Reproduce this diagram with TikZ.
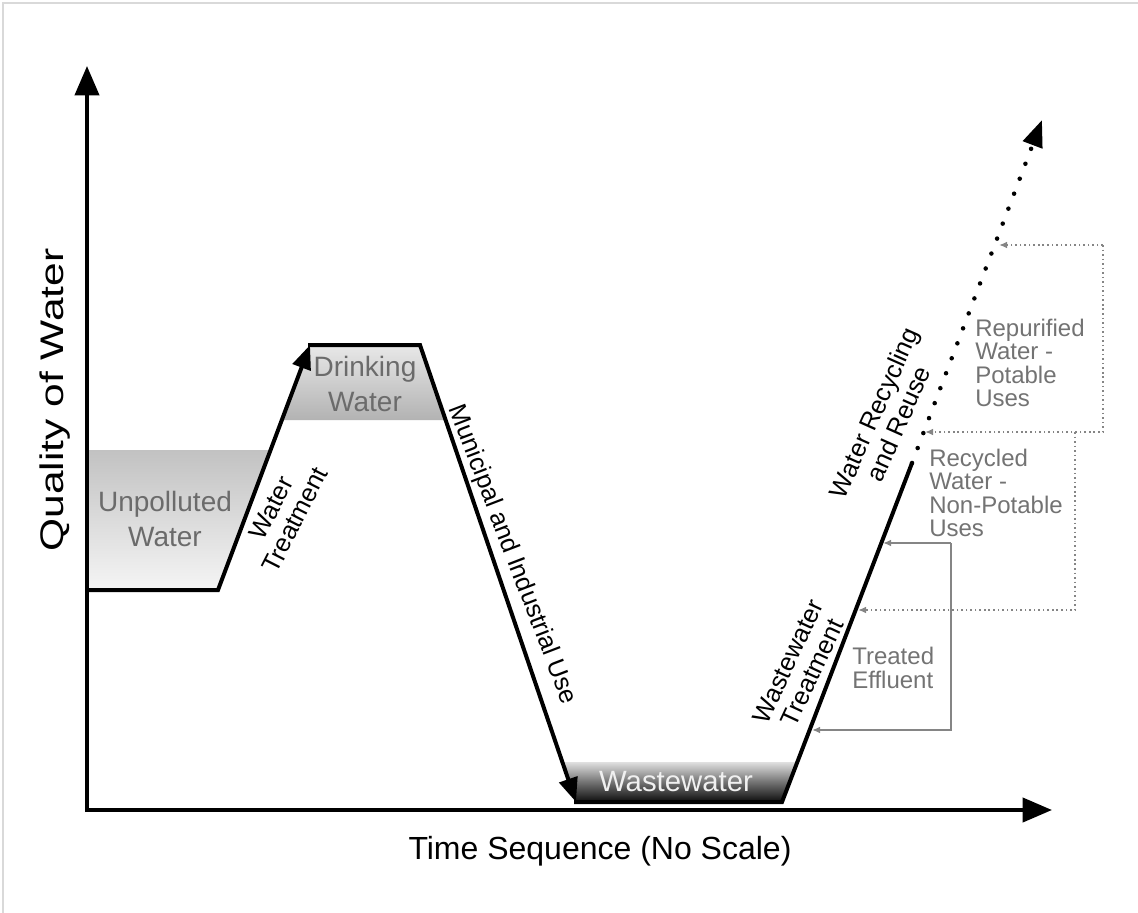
\documentclass[tikz,border=0pt]{standalone}
\usepackage{fontspec}
\setmainfont{Liberation Sans}
\usetikzlibrary{arrows.meta}
\begin{document}
\begin{tikzpicture}[x=0.75pt,y=-0.75pt,
  axis/.style={line width=3pt, -{Triangle[length=22pt,width=18pt]}},
  mainline/.style={line width=3pt, line join=miter},
  mainarrow/.style={line width=3pt, -{Triangle[length=18pt,width=14pt]}},
  dotline/.style={line width=3.4pt, line cap=round, dash pattern=on 0pt off 12pt, -{Triangle[length=20pt,width=15pt]}},
  grayline/.style={draw=black!48, line width=1.5pt},
  graydot/.style={draw=black!48, line width=1.6pt, dash pattern=on 1.2pt off 2.2pt},
  gtip/.style={-{Latex[length=6pt,width=5pt]}},
  fillabel/.style={text=black!58, font=\fontsize{21}{26}\selectfont, align=center, inner sep=0pt},
  graylabel/.style={text=black!55, font=\fontsize{18}{17.5}\selectfont, align=left, anchor=west, inner sep=0pt},
  linelabel/.style={font=\fontsize{19}{20}\selectfont, align=center, inner sep=0pt},
]
\useasboundingbox (0,0) rectangle (1138,913);
% border
\draw[black!15, line width=1.5pt] (3,913) -- (3,3) -- (1138,3);

% key points of the quality path
\coordinate (a0) at (87,590);
\coordinate (a1) at (218,590);
\coordinate (a2) at (310,345);
\coordinate (a3) at (420,345);
\coordinate (a4) at (576,802);
\coordinate (a5) at (782,802);
\coordinate (a6) at (912,463);
\coordinate (a7) at (1042,120);

% shaded bands
\shade[top color=black!24, bottom color=black!4] (87,450) -- (270.6,450) -- (a1) -- (a0) -- cycle;
\shade[top color=black!9, bottom color=black!30] (310,345) -- (420,345) -- (445.5,420) -- (281.8,420) -- cycle;
\shade[top color=black!12, bottom color=black!95, middle color=black!55] (562,762) -- (797,762) -- (a5) -- (a4) -- cycle;

% axes
\coordinate (O) at (87,810);
\coordinate (ytip) at (87,66);
\coordinate (xtip) at (1052,810);
\draw[axis] (87,812) -- (ytip);
\draw[axis] (85,810) -- (xtip);

% main path
\draw[mainarrow] (a0) -- (a1) -- (a2);
\draw[mainarrow] (308,345) -- (a3) -- (a4);
\draw[mainline] (574,802) -- (a5) -- (a6);
\draw[dotline] (a6) -- (a7);

% gray brackets
\coordinate (t1) at (951,543);
\coordinate (t2) at (951,730);
\coordinate (e1) at (883,543);
\coordinate (e2) at (812,730);
\draw[grayline, gtip] (t1) -- (e1);
\draw[grayline, gtip] (t1) -- (t2) -- (e2);

\coordinate (p1) at (1103,245);
\coordinate (p2) at (1103,432);
\coordinate (q1) at (999,245);
\coordinate (q2) at (925,432);
\draw[graydot, gtip] (p1) -- (q1);
\draw[graydot, gtip] (p1) -- (p2) -- (q2);

\coordinate (r1) at (1075,432);
\coordinate (r2) at (1075,610);
\coordinate (s2) at (858,610);
\draw[graydot, gtip] (r1) -- (r2) -- (s2);

% labels
\node[fillabel] (unpol) at (165,519) {Unpolluted\\Water};
\node[fillabel] (drink) at (365,384) {Drinking\\Water};
\node[fillabel, text=black!6, font=\fontsize{22}{26}\selectfont] (waste) at (676,782) {Wastewater};

\node[font=\fontsize{24}{28}\selectfont] (xlab) at (600,851) {Time Sequence (No Scale)};
\node[font=\fontsize{24.5}{28}\selectfont, rotate=90] (ylab) at (55,400) {\scalebox{1.3}[1]{Quality of Water}};

\node[linelabel, rotate=63] (wt) at (283,514) {Water\\Treatment};
\node[linelabel, rotate=-69] (mi) at (512,555) {Municipal and Industrial Use};
\node[linelabel, rotate=65] (wwt) at (800,667) {Wastewater\\Treatment};
\node[linelabel, rotate=66] (wrr) at (886,418) {Water Recycling\\and Reuse};

\node[graylabel] (rep) at (975,363) {Repurified\\Water -\\Potable\\Uses};
\node[graylabel] (rec) at (929,493) {Recycled\\Water -\\Non-Potable\\Uses};
\node[graylabel] (tre) at (852,668) {Treated\\Effluent};
\end{tikzpicture}
\end{document}
